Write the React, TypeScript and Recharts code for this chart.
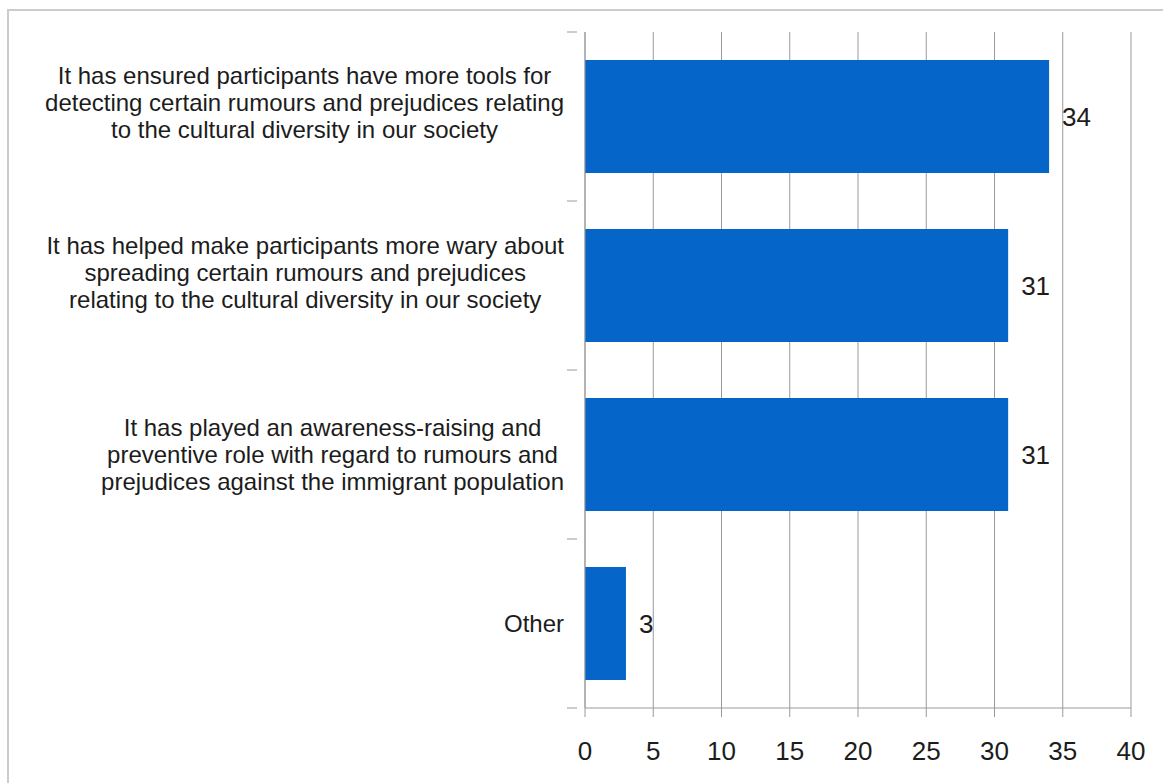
import { Bar, BarChart, CartesianGrid, LabelList, XAxis, YAxis } from "recharts";

const categories = [
  "It has ensured participants have more tools for\ndetecting certain rumours and prejudices relating\nto the cultural diversity in our society",
  "It has helped make participants more wary about\nspreading certain rumours and prejudices\nrelating to the cultural diversity in our society",
  "It has played an awareness-raising and\npreventive role with regard to rumours and\nprejudices against the immigrant population",
  "Other",
];
const values = [34, 31, 31, 3];
const xTicks = [0, 5, 10, 15, 20, 25, 30, 35, 40];

const chartData = categories.map((name, i) => ({ name, value: values[i] }));

const W = 1163;
const H = 783;
const MARGIN = { top: 32, right: 32, bottom: 25, left: 0 };
const Y_WIDTH = 585;
const X_HEIGHT = 50;
const FONT = "'Liberation Sans', Arial, Helvetica, sans-serif";
const AXIS = "#9a9a9a";
const TEXT = "#1c1c1c";
const LABEL_SIZE = 24;
const LINE_H = 27;
// the first two labels sit a little above their band's centre in the original
const LABEL_SHIFT = [-14, -13, 0, 0];

const bandSize =
  (H - MARGIN.top - MARGIN.bottom - X_HEIGHT) / categories.length;

let measureCtx: CanvasRenderingContext2D | null = null;
const textWidth = (s: string) => {
  if (!measureCtx) {
    measureCtx = document.createElement("canvas").getContext("2d");
  }
  if (!measureCtx) return s.length * LABEL_SIZE * 0.5;
  measureCtx.font = `${LABEL_SIZE}px "Liberation Sans"`;
  return measureCtx.measureText(s).width;
};

const CategoryTick = (props: any) => {
  const { x, y, payload, index } = props;
  const lines = String(payload.value).split("\n");
  const right = x - 13;
  const blockW = Math.max(...lines.map(textWidth));
  const cx = right - blockW / 2;
  const first =
    y + 8 - ((lines.length - 1) * LINE_H) / 2 + (LABEL_SHIFT[index] ?? 0);
  const last = index === categories.length - 1;
  return (
    <g>
      <line x1={x - 10} x2={x} y1={y - bandSize / 2} y2={y - bandSize / 2} stroke={AXIS} />
      {last && (
        <line x1={x - 10} x2={x} y1={y + bandSize / 2} y2={y + bandSize / 2} stroke={AXIS} />
      )}
      <text textAnchor="middle" fill={TEXT} fontSize={LABEL_SIZE} fontFamily={FONT}>
        {lines.map((line, i) => (
          <tspan key={i} x={cx} y={first + i * LINE_H}>
            {line}
          </tspan>
        ))}
      </text>
    </g>
  );
};

export default function App() {
  return (
    <div
      style={{
        position: "absolute",
        left: 0,
        top: 0,
        width: W,
        height: H,
        overflow: "hidden",
        background: "#fff",
      }}
    >
      <div
        style={{
          position: "absolute",
          left: 7,
          top: 9,
          width: W + 20,
          height: H + 20,
          borderLeft: "2px solid #cccccc",
          borderTop: "2px solid #cccccc",
        }}
      />
      <BarChart
        width={W}
        height={H}
        data={chartData}
        layout="vertical"
        margin={MARGIN}
        barCategoryGap="16.5%"
        style={{ position: "absolute", left: 0, top: 0 }}
      >
        <CartesianGrid horizontal={false} stroke={AXIS} />
        <XAxis
          type="number"
          domain={[0, 40]}
          ticks={xTicks}
          height={X_HEIGHT}
          stroke={AXIS}
          tickSize={9}
          tickMargin={25}
          tick={{ fill: TEXT, fontSize: 26, fontFamily: FONT }}
        />
        <YAxis
          type="category"
          dataKey="name"
          width={Y_WIDTH}
          stroke={AXIS}
          tickLine={false}
          interval={0}
          tick={<CategoryTick />}
        />
        <Bar dataKey="value" fill="#0565c9" isAnimationActive={false}>
          <LabelList
            dataKey="value"
            position="right"
            offset={13}
            fill={TEXT}
            fontSize={26}
            fontFamily={FONT}
          />
        </Bar>
      </BarChart>
    </div>
  );
}
